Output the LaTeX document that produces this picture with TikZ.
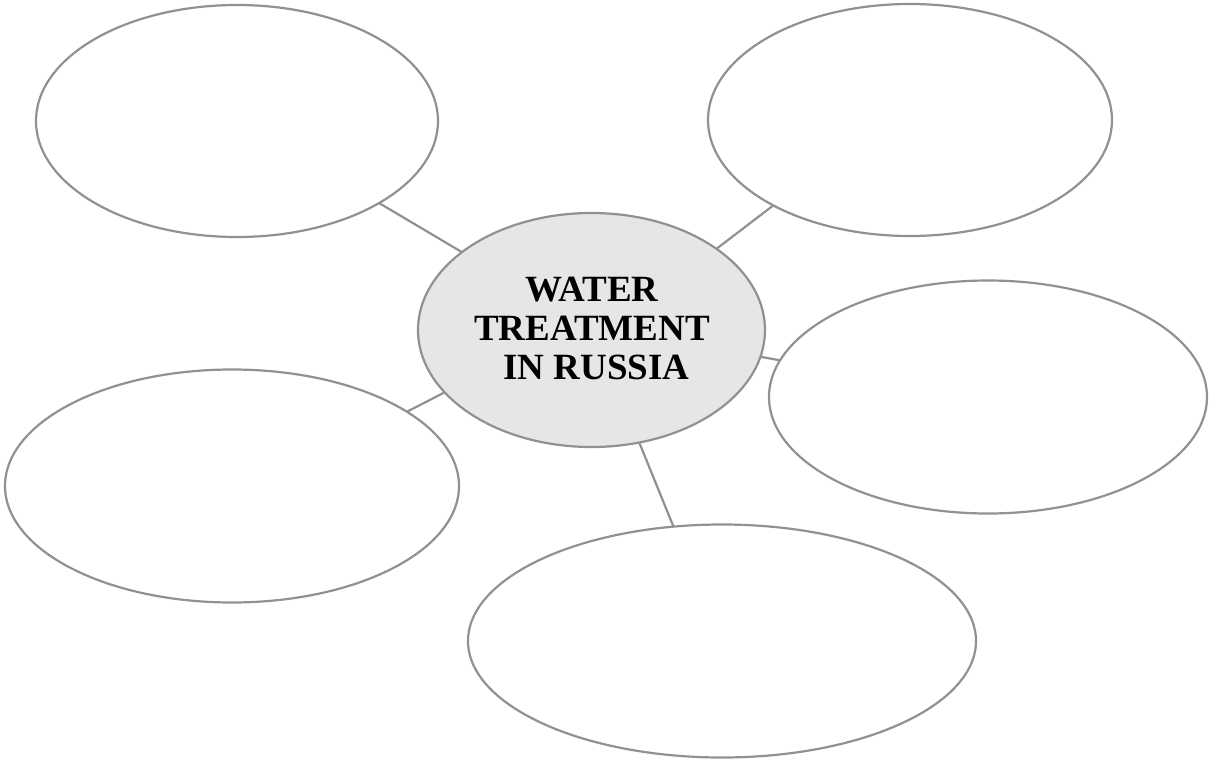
\documentclass[tikz,border=0pt]{standalone}
\usepackage{fontspec}
\setmainfont{Liberation Serif}
\usetikzlibrary{shapes.geometric}
\definecolor{linegray}{RGB}{145,145,145}
\definecolor{hubfill}{RGB}{230,230,230}
\tikzset{
  bubble/.style={ellipse, draw=linegray, line width=2.2pt, inner sep=0pt, outer sep=0pt},
  link/.style={draw=linegray, line width=2.2pt}
}
\begin{document}
\begin{tikzpicture}[x=1pt,y=-1pt]
\useasboundingbox (0,0) rectangle (1211,763);
\node[bubble, minimum width=402pt, minimum height=232pt] (tl) at (237,121) {};
\node[bubble, minimum width=404pt, minimum height=232pt] (tr) at (910,120) {};
\node[bubble, fill=hubfill, minimum width=347pt, minimum height=234pt] (hub) at (591.5,330) {};
\node[bubble, minimum width=438pt, minimum height=233pt] (rt) at (988,397) {};
\node[bubble, minimum width=454pt, minimum height=233pt] (lf) at (232,486) {};
\node[bubble, minimum width=508pt, minimum height=233pt] (bt) at (722,641) {};
\node[align=center, font=\fontsize{37}{39}\selectfont\bfseries, inner sep=0pt] (title) at (592,328) {WATER\\TREATMENT\\\ IN RUSSIA};
\draw[link] (tl.-30.8) -- (hub.149.6);
\draw[link] (tr.212.8) -- (hub.33.9);
\draw[link] (rt.170.1) -- (hub.-9.1);
\draw[link] (lf.23.6) -- (hub.203.9);
\draw[link] (bt.113.1) -- (hub.-67.6);
\end{tikzpicture}
\end{document}
